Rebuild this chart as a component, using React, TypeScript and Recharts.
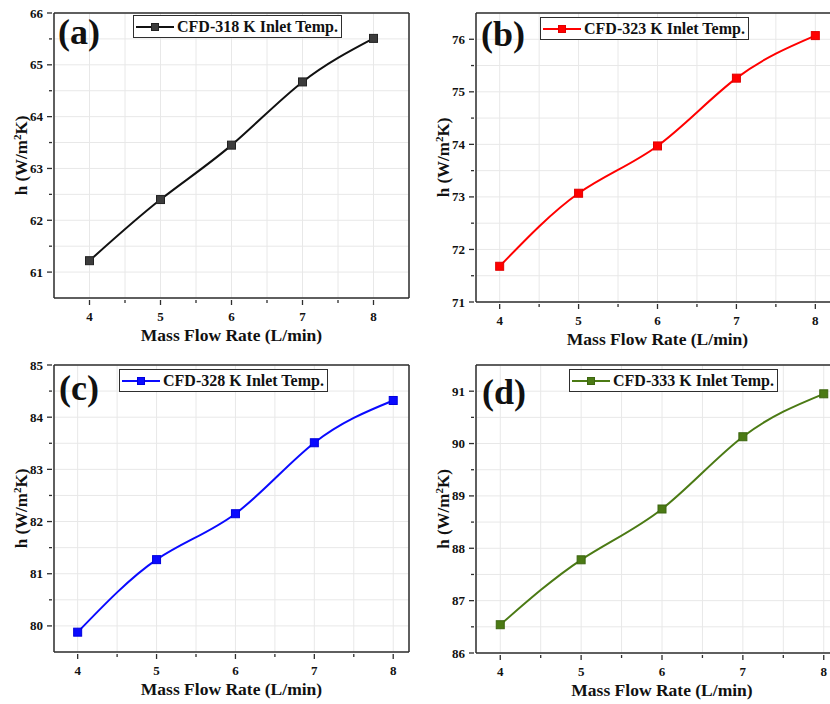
import { LineChart, Line, XAxis, YAxis, CartesianGrid, ReferenceLine, Legend, Label } from 'recharts';

// Heat transfer coefficient vs mass flow rate, one panel per inlet temperature
const flowRates = [4, 5, 6, 7, 8];
const h318 = [61.22, 62.4, 63.45, 64.67, 65.51];
const h323 = [71.68, 73.07, 73.97, 75.26, 76.07];
const h328 = [79.88, 81.27, 82.15, 83.51, 84.32];
const h333 = [86.54, 87.78, 88.75, 90.13, 90.95];

// major + minor (half step) ticks
const xTicks = [4, 4.5, 5, 5.5, 6, 6.5, 7, 7.5, 8];
const yTicks318 = [61, 61.5, 62, 62.5, 63, 63.5, 64, 64.5, 65, 65.5, 66];
const yTicks323 = [71, 71.5, 72, 72.5, 73, 73.5, 74, 74.5, 75, 75.5, 76];
const yTicks328 = [80, 80.5, 81, 81.5, 82, 82.5, 83, 83.5, 84, 84.5, 85];
const yTicks333 = [86, 86.5, 87, 87.5, 88, 88.5, 89, 89.5, 90, 90.5, 91];

const FONT = '"Liberation Serif", "Times New Roman", serif';
const AXIS = '#2e2e2e';

const panels = [
  {
    id: 'a', tag: '(a)', name: 'CFD-318 K Inlet Temp.', values: h318, yTicks: yTicks318,
    xDomain: [3.5, 8.5], yDomain: [60.5, 66],
    line: '#111111', markFill: '#3c3c3c', markStroke: '#222222',
    left: 0, top: 0, width: 415, height: 350, mt: 13, mr: 6, yw: 54, xh: 52,
    tagX: 58, tagY: 44, legX: 133, legY: 15,
  },
  {
    id: 'b', tag: '(b)', name: 'CFD-323 K Inlet Temp.', values: h323, yTicks: yTicks323,
    xDomain: [3.7, 8.3], yDomain: [71, 76.5],
    line: '#ff0000', markFill: '#ff0000', markStroke: '#e00000',
    left: 415, top: 0, width: 430, height: 350, mt: 13, mr: 6, yw: 61, xh: 48,
    tagX: 66, tagY: 46, legX: 125, legY: 17,
  },
  {
    id: 'c', tag: '(c)', name: 'CFD-328 K Inlet Temp.', values: h328, yTicks: yTicks328,
    xDomain: [3.7, 8.2], yDomain: [79.5, 85],
    line: '#0a0aff', markFill: '#0a0aff', markStroke: '#0000dd',
    left: 0, top: 350, width: 415, height: 354, mt: 15, mr: 6, yw: 54, xh: 52,
    tagX: 59, tagY: 50, legX: 119, legY: 19,
  },
  {
    id: 'd', tag: '(d)', name: 'CFD-333 K Inlet Temp.', values: h333, yTicks: yTicks333,
    xDomain: [3.7, 8.3], yDomain: [86, 91.5],
    line: '#4b7a14', markFill: '#4b7a14', markStroke: '#3d6610',
    left: 415, top: 350, width: 440, height: 354, mt: 15, mr: 7, yw: 61, xh: 51,
    tagX: 67, tagY: 54, legX: 154, legY: 19,
  },
];

const XTick = (props: any) => {
  const { x, y, payload } = props;
  const major = Number.isInteger(payload.value);
  return (
    <g>
      <line x1={x} y1={y} x2={x} y2={y + (major ? 5 : 3)} stroke={AXIS} strokeWidth={1.3} />
      {major && (
        <text x={x} y={y + 21} textAnchor="middle" fontFamily={FONT} fontWeight="bold" fontSize={13} fill="#111">
          {payload.value}
        </text>
      )}
    </g>
  );
};

const YTick = (props: any) => {
  const { x, y, payload } = props;
  const major = Number.isInteger(payload.value);
  return (
    <g>
      <line x1={x} y1={y} x2={x - (major ? 5 : 3)} y2={y} stroke={AXIS} strokeWidth={1.3} />
      {major && (
        <text x={x - 9} y={y} dy="0.35em" textAnchor="end" fontFamily={FONT} fontWeight="bold" fontSize={13} fill="#111">
          {payload.value}
        </text>
      )}
    </g>
  );
};

const XTitle = (props: any) => {
  const vb = props.viewBox;
  return (
    <text x={vb.x + vb.width / 2} y={vb.y + 43} textAnchor="middle" fontFamily={FONT} fontWeight="bold" fontSize={17.5} fill="#111">
      Mass Flow Rate (L/min)
    </text>
  );
};

const YTitle = (props: any) => {
  const vb = props.viewBox;
  const bx = vb.x + vb.width - 27;
  const cy = vb.y + vb.height / 2;
  return (
    <text transform={`translate(${bx},${cy}) rotate(-90)`} textAnchor="middle" fontFamily={FONT} fontWeight="bold" fontSize={17} fill="#111">
      h (W/m<tspan dy={-6} fontSize={11}>2</tspan><tspan dy={6}>K)</tspan>
    </text>
  );
};

function LegendBox({ p }: { p: any }) {
  return (
    <div
      style={{
        display: 'inline-flex', alignItems: 'center', border: `1.5px solid ${AXIS}`, background: '#fff',
        padding: '0 3px 0 2px', height: 21, fontFamily: FONT, fontWeight: 'bold', fontSize: 16, color: '#111',
        whiteSpace: 'nowrap', boxSizing: 'content-box',
      }}
    >
      <svg width={38} height={12} style={{ marginRight: 3 }}>
        <line x1={0} y1={6} x2={38} y2={6} stroke={p.line} strokeWidth={2} />
        <rect x={15.5} y={2.5} width={7} height={7} fill={p.markFill} stroke={p.markStroke} />
      </svg>
      <span>{p.name}</span>
    </div>
  );
}

function Panel({ p }: { p: any }) {
  const data = flowRates.map((rate, i) => ({ rate, h: p.values[i] }));
  return (
    <div style={{ position: 'absolute', left: p.left, top: p.top }}>
      <LineChart width={p.width} height={p.height} data={data} margin={{ top: p.mt, right: p.mr, left: 0, bottom: 0 }}>
        <CartesianGrid stroke="#e8e8e8" strokeWidth={1} />
        <XAxis
          dataKey="rate"
          type="number"
          domain={p.xDomain}
          ticks={xTicks}
          interval={0}
          height={p.xh}
          tickSize={0}
          tickLine={false}
          tick={<XTick />}
          axisLine={{ stroke: AXIS, strokeWidth: 1.5 }}
        >
          <Label content={<XTitle />} />
        </XAxis>
        <YAxis
          type="number"
          domain={p.yDomain}
          ticks={p.yTicks}
          interval={0}
          width={p.yw}
          tickSize={0}
          tickLine={false}
          tick={<YTick />}
          axisLine={{ stroke: AXIS, strokeWidth: 1.5 }}
        >
          <Label content={<YTitle />} />
        </YAxis>
        <ReferenceLine y={p.yDomain[1]} stroke={AXIS} strokeWidth={1.5} />
        <ReferenceLine x={p.xDomain[1]} stroke={AXIS} strokeWidth={1.5} />
        <Line
          type="natural"
          dataKey="h"
          stroke={p.line}
          strokeWidth={2}
          isAnimationActive={false}
          dot={(d: any) => (
            <rect key={d.index} x={d.cx - 4} y={d.cy - 4} width={8} height={8} fill={p.markFill} stroke={p.markStroke} strokeWidth={1} />
          )}
          activeDot={false}
        />
        <Legend
          layout="horizontal"
          verticalAlign="middle"
          align="center"
          wrapperStyle={{ left: p.legX, top: p.legY, width: 'auto', height: 'auto' }}
          content={() => <LegendBox p={p} />}
        />
        <text x={p.tagX} y={p.tagY} fontFamily={FONT} fontWeight="bold" fontSize={36} fill="#111">
          {p.tag}
        </text>
      </LineChart>
    </div>
  );
}

export default function App() {
  return (
    <div style={{ position: 'absolute', left: 0, top: 0, width: 830, height: 704, overflow: 'hidden', background: '#fff' }}>
      {panels.map(p => (
        <Panel key={p.id} p={p} />
      ))}
    </div>
  );
}
